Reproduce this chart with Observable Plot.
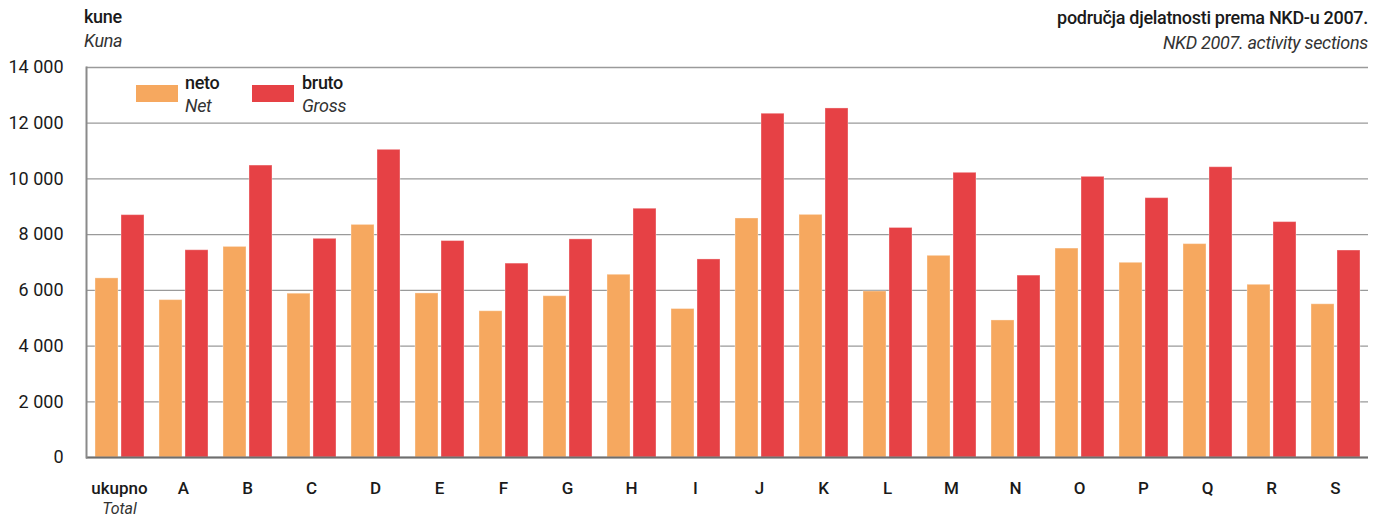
<!DOCTYPE html>
<html>
<head>
<meta charset="utf-8">
<script src="https://cdn.jsdelivr.net/npm/d3@7"></script>
<script src="https://cdn.jsdelivr.net/npm/@observablehq/plot@0.6"></script>
<style>
  html, body { margin: 0; padding: 0; background: #fff; }
  #wrap { position: relative; width: 1389px; height: 517px; font-family: Roboto, "Liberation Sans", sans-serif; color: #1a1a1a; }
  .t { position: absolute; white-space: nowrap; line-height: 1; }
  .b { font-size: 18px; font-weight: 500; letter-spacing: -0.3px; }
  .i { font-size: 18px; font-style: italic; color: #333; letter-spacing: -0.3px; }
  .sw { position: absolute; width: 42px; height: 17px; }
</style>
</head>
<body>
<div id="wrap">
  <div class="t b" style="left:84px; top:8px;">kune</div>
  <div class="t i" style="left:84px; top:32px;">Kuna</div>
  <div class="t b" style="right:21px; top:9px;">područja djelatnosti prema NKD-u 2007.</div>
  <div class="t i" style="right:21px; top:34px;">NKD 2007. activity sections</div>
  <div class="sw" id="sw1" style="left:136px; top:85px;"></div>
  <div class="t b" style="left:185px; top:74px;">neto</div>
  <div class="t i" style="left:185px; top:97px;">Net</div>
  <div class="sw" id="sw2" style="left:252px; top:85px;"></div>
  <div class="t b" style="left:302px; top:74px;">bruto</div>
  <div class="t i" style="left:302px; top:97px;">Gross</div>
</div>
<script>
const categories = ["ukupno","A","B","C","D","E","F","G","H","I","J","K","L","M","N","O","P","Q","R","S"];
const netValues   = [6430, 5650, 7560, 5880, 8350, 5890, 5250, 5790, 6560, 5330, 8580, 8710, 5960, 7240, 4920, 7500, 6990, 7660, 6200, 5500];
const grossValues = [8700, 7440, 10480, 7850, 11045, 7770, 6960, 7830, 8930, 7110, 12340, 12530, 8240, 10220, 6530, 10075, 9310, 10420, 8450, 7430];
const yTicks = [0, 2000, 4000, 6000, 8000, 10000, 12000, 14000];

const netColor = "#F6A85F";
const grossColor = "#E64145";
document.getElementById("sw1").style.background = netColor;
document.getElementById("sw2").style.background = grossColor;

const net = categories.map((c, i) => ({cat: c, value: netValues[i]}));
const gross = categories.map((c, i) => ({cat: c, value: grossValues[i]}));
const fmt = d => d3.format(",")(d).replace(/,/g, " ");

const chart = Plot.plot({
  width: 1389,
  height: 517,
  marginTop: 67,
  marginBottom: 60,
  marginLeft: 86,
  marginRight: 21,
  style: {fontFamily: 'Roboto, "Liberation Sans", sans-serif', color: "#1a1a1a", background: "transparent"},
  x: {domain: categories, padding: 0, axis: null},
  y: {domain: [0, 14000], axis: null},
  marks: [
    Plot.gridY(yTicks, {stroke: "#9a9a9a", strokeOpacity: 1, strokeWidth: 1.3}),
    Plot.barY(net, {x: "cat", y: "value", fill: netColor, insetLeft: 8, insetRight: 33, stroke: "#fff", strokeOpacity: 0.35, strokeWidth: 1}),
    Plot.barY(gross, {x: "cat", y: "value", fill: grossColor, insetLeft: 34, insetRight: 7, stroke: "#fff", strokeOpacity: 0.35, strokeWidth: 1}),
    Plot.ruleY([0], {stroke: "#6e6e6e", strokeWidth: 2}),
    Plot.frame({anchor: "left", stroke: "#8a8a8a", strokeWidth: 2}),
    Plot.axisY({ticks: yTicks, tickFormat: fmt, tickSize: 0, tickPadding: 23, fontSize: 18, label: null}),
    Plot.axisX({tickSize: 0, tickPadding: 24, fontSize: 17, fontWeight: 500, label: null}),
    Plot.text(["ukupno"], {x: d => d, text: () => "Total", frameAnchor: "bottom", lineAnchor: "bottom", dy: 56, fontSize: 16, fontStyle: "italic", fill: "#333"})
  ]
});
document.getElementById("wrap").prepend(chart);
chart.style.position = "absolute";
chart.style.left = "0";
chart.style.top = "0";
</script>
</body>
</html>
